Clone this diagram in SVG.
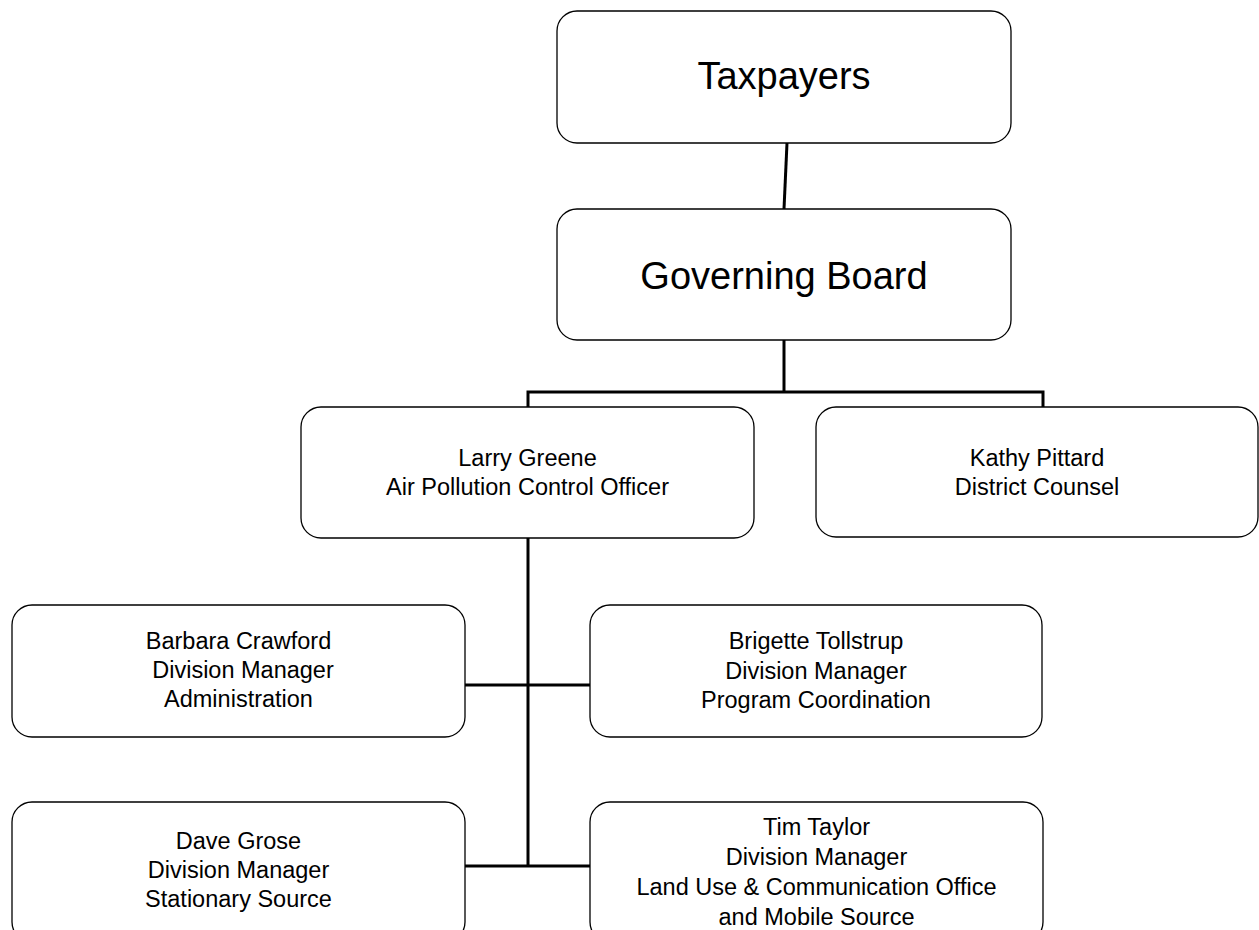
<svg xmlns="http://www.w3.org/2000/svg" width="1259" height="930" viewBox="0 0 1259 930">
<style>
.box{fill:#fff;stroke:#000;stroke-width:1.3}
.big{font-family:"Liberation Sans",Arial,sans-serif;font-size:38px;fill:#000;text-anchor:middle}
.sm{font-family:"Liberation Sans",Arial,sans-serif;font-size:23.5px;fill:#000;text-anchor:middle}
.conn{fill:none;stroke:#000;stroke-width:3}
</style>
<rect width="1259" height="930" fill="#fff"/>
<g id="connectors">
<line class="conn" x1="787" y1="143" x2="784" y2="209"/>
<polyline class="conn" points="528,407 528,392 1043,392 1043,407"/>
<line class="conn" x1="784" y1="340" x2="784" y2="392"/>
<line class="conn" x1="528" y1="538" x2="528" y2="866"/>
<line class="conn" x1="465" y1="685" x2="590" y2="685"/>
<line class="conn" x1="465" y1="866" x2="590" y2="866"/>
</g>
<g id="taxpayers">
<rect class="box" x="557" y="11" width="454" height="132" rx="20"/>
<text class="big" x="784" y="89">Taxpayers</text>
</g>
<g id="governing-board">
<rect class="box" x="557" y="209" width="454" height="131" rx="20"/>
<text class="big" x="784" y="289">Governing Board</text>
</g>
<g id="larry-greene">
<rect class="box" x="301" y="407" width="453" height="131" rx="20"/>
<text class="sm" x="527.5" y="466">Larry Greene</text>
<text class="sm" x="527.5" y="495">Air Pollution Control Officer</text>
</g>
<g id="kathy-pittard">
<rect class="box" x="816" y="407" width="442" height="130" rx="20"/>
<text class="sm" x="1037" y="466">Kathy Pittard</text>
<text class="sm" x="1037" y="495">District Counsel</text>
</g>
<g id="barbara-crawford">
<rect class="box" x="12" y="605" width="453" height="132" rx="20"/>
<text class="sm" x="238.5" y="649">Barbara Crawford</text>
<text class="sm" x="243" y="678">Division Manager</text>
<text class="sm" x="238.5" y="707">Administration</text>
</g>
<g id="brigette-tollstrup">
<rect class="box" x="590" y="605" width="452" height="132" rx="20"/>
<text class="sm" x="816" y="649">Brigette Tollstrup</text>
<text class="sm" x="816" y="679">Division Manager</text>
<text class="sm" x="816" y="708">Program Coordination</text>
</g>
<g id="dave-grose">
<rect class="box" x="12" y="802" width="453" height="140" rx="20"/>
<text class="sm" x="238.5" y="849">Dave Grose</text>
<text class="sm" x="238.5" y="878">Division Manager</text>
<text class="sm" x="238.5" y="907">Stationary Source</text>
</g>
<g id="tim-taylor">
<rect class="box" x="590" y="802" width="453" height="140" rx="20"/>
<text class="sm" x="816.5" y="835">Tim Taylor</text>
<text class="sm" x="816.5" y="865">Division Manager</text>
<text class="sm" x="816.5" y="895">Land Use &amp; Communication Office</text>
<text class="sm" x="816.5" y="925">and Mobile Source</text>
</g>
</svg>
